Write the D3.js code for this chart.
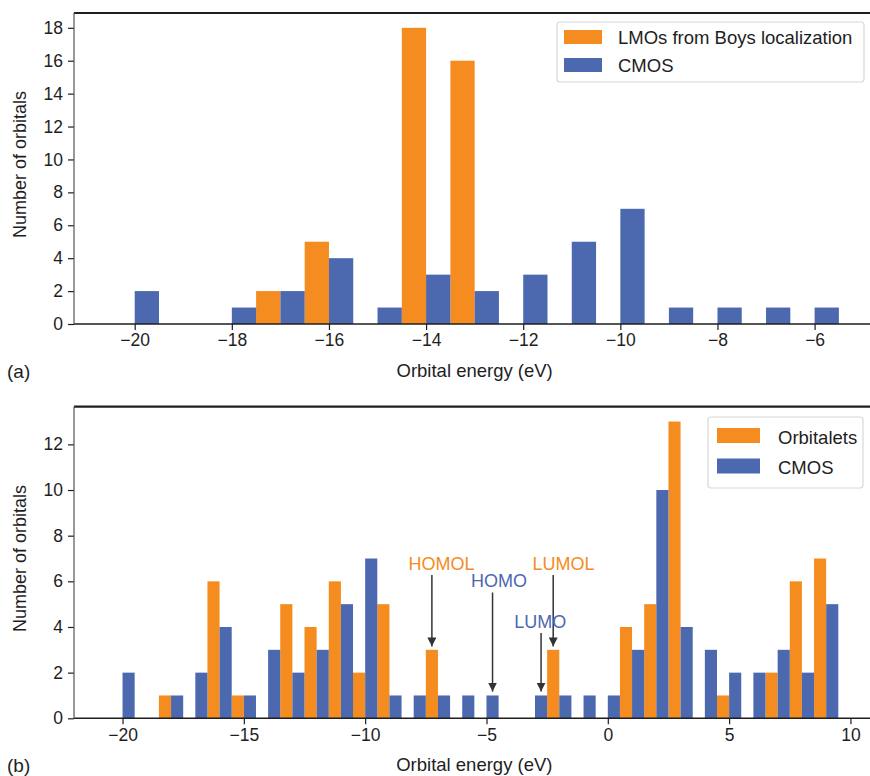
<!DOCTYPE html>
<html>
<head>
<meta charset="utf-8">
<script src="https://cdn.jsdelivr.net/npm/d3@7"></script>
<style>
  html, body { margin: 0; padding: 0; background: #fff; }
  svg { display: block; font-family: "Liberation Sans", Arial, Helvetica, sans-serif; }
</style>
</head>
<body>
<svg id="chart" width="870" height="776"></svg>
<script>
// ---------- DATA ----------
// Panel (a)
const binsA = [-20, -19, -18, -17, -16, -15, -14, -13, -12, -11, -10, -9, -8, -7, -6];
const lmoCounts = [0, 0, 0, 2, 5, 0, 18, 16, 0, 0, 0, 0, 0, 0, 0];
const cmosCountsA = [2, 0, 1, 2, 4, 1, 3, 2, 3, 5, 7, 1, 1, 1, 1];
const xTicksA = [-20, -18, -16, -14, -12, -10, -8, -6];
const yTicksA = [0, 2, 4, 6, 8, 10, 12, 14, 16, 18];

// Panel (b)
const binsB = [-20, -19, -18, -17, -16, -15, -14, -13, -12, -11, -10, -9, -8, -7, -6, -5, -4, -3, -2, -1, 0, 1, 2, 3, 4, 5, 6, 7, 8, 9];
const orbitaletCounts = [0, 0, 1, 0, 6, 1, 0, 5, 4, 6, 2, 5, 0, 3, 0, 0, 0, 0, 3, 0, 0, 4, 5, 13, 0, 1, 0, 2, 6, 7];
const cmosCountsB = [2, 0, 1, 2, 4, 1, 3, 2, 3, 5, 7, 1, 1, 1, 1, 1, 0, 1, 1, 1, 1, 3, 10, 4, 3, 2, 2, 3, 2, 5];
const xTicksB = [-20, -15, -10, -5, 0, 5, 10];
const yTicksB = [0, 2, 4, 6, 8, 10, 12];

// Annotations in panel (b) (data coordinates)
const annLabels = ["HOMOL", "HOMO", "LUMOL", "LUMO"];
const annSeries = ["orb", "cmos", "orb", "cmos"];
const annTargetX = [-7.25, -4.75, -2.25, -2.75];
const annTargetY = [3.15, 1.17, 3.15, 1.17];
const annTextX = [-6.85, -4.48, -1.83, -2.78];
const annTextY = [6.5, 5.73, 6.5, 3.96];

// Legends
const legendA = ["LMOs from Boys localization", "CMOS"];
const legendB = ["Orbitalets", "CMOS"];

// ---------- STYLE ----------
const ORANGE = "#F58C20";
const BLUE = "#4C69B0";
const INK = "#1e1e1e";

const svg = d3.select("#chart");

function panel(cfg) {
  const g = svg.append("g");
  const x = d3.scaleLinear().domain(cfg.xDomain).range([cfg.left, cfg.right]);
  const y = d3.scaleLinear().domain(cfg.yDomain).range([cfg.bottom, cfg.top]);

  // bars: orange on left half of bin, blue on right half
  g.append("g").selectAll("rect").data(cfg.bins.map((b, i) => ({b, v: cfg.s0[i]})).filter(d => d.v > 0))
    .join("rect")
    .attr("x", d => x(d.b - 0.5)).attr("width", d => x(d.b) - x(d.b - 0.5))
    .attr("y", d => y(d.v)).attr("height", d => y(0) - y(d.v))
    .attr("fill", ORANGE);
  g.append("g").selectAll("rect").data(cfg.bins.map((b, i) => ({b, v: cfg.s1[i]})).filter(d => d.v > 0))
    .join("rect")
    .attr("x", d => x(d.b)).attr("width", d => x(d.b + 0.5) - x(d.b))
    .attr("y", d => y(d.v)).attr("height", d => y(0) - y(d.v))
    .attr("fill", BLUE);

  // axes
  const xAxis = d3.axisBottom(x).tickValues(cfg.xTicks).tickSize(6).tickPadding(4).tickFormat(d3.format("d"));
  const yAxis = d3.axisLeft(y).tickValues(cfg.yTicks).tickSize(6).tickPadding(5).tickFormat(d3.format("d"));
  const gx = g.append("g").attr("transform", `translate(0,${cfg.bottom})`).call(xAxis);
  const gy = g.append("g").attr("transform", `translate(${cfg.left},0)`).call(yAxis);
  [gx, gy].forEach(a => {
    a.select(".domain").remove();
    a.selectAll(".tick line").attr("stroke", INK).attr("stroke-width", 1.2);
    a.selectAll(".tick text").attr("fill", INK).style("font-size", "17.5px").style("font-family", '"Liberation Sans", Arial, sans-serif');
  });

  // spines
  g.append("line").attr("x1", cfg.left).attr("x2", cfg.right).attr("y1", cfg.top).attr("y2", cfg.top)
    .attr("stroke", INK).attr("stroke-width", 2.2);
  g.append("line").attr("x1", cfg.left).attr("x2", cfg.right).attr("y1", cfg.bottom).attr("y2", cfg.bottom)
    .attr("stroke", INK).attr("stroke-width", 1.5);
  g.append("line").attr("x1", cfg.left).attr("x2", cfg.left).attr("y1", cfg.top).attr("y2", cfg.bottom)
    .attr("stroke", "#555").attr("stroke-width", 1.2);

  // labels
  g.append("text").attr("x", (cfg.left + cfg.right) / 2).attr("y", cfg.bottom + 53)
    .attr("text-anchor", "middle").attr("fill", INK).style("font-size", "18.5px").text("Orbital energy (eV)");
  g.append("text").attr("transform", `translate(26,${(cfg.top + cfg.bottom) / 2 - 4}) rotate(-90)`)
    .attr("text-anchor", "middle").attr("fill", INK).style("font-size", "18px").text("Number of orbitals");
  g.append("text").attr("x", 7).attr("y", cfg.bottom + 54)
    .attr("fill", INK).style("font-size", "19px").text(cfg.tag);

  // legend
  const L = cfg.legend;
  g.append("rect").attr("x", L.x).attr("y", L.y).attr("width", L.w).attr("height", L.h)
    .attr("rx", 3).attr("fill", "#fff").attr("stroke", "#d8d8d8").attr("stroke-width", 1.2);
  cfg.legendLabels.forEach((lab, i) => {
    g.append("rect").attr("x", L.x + L.sx).attr("y", L.y + L.sy + i * L.dy)
      .attr("width", L.sw).attr("height", L.sh).attr("fill", i === 0 ? ORANGE : BLUE);
    g.append("text").attr("x", L.x + L.tx).attr("y", L.y + L.ty + i * L.dy)
      .attr("fill", INK).style("font-size", "18.5px").text(lab);
  });
  return {g, x, y};
}

panel({
  left: 74, right: 875.3, top: 13, bottom: 324,
  xDomain: [-21.25, -4.75], yDomain: [0, 18.9],
  bins: binsA, s0: lmoCounts, s1: cmosCountsA,
  xTicks: xTicksA, yTicks: yTicksA, tag: "(a)",
  legendLabels: legendA,
  legend: {x: 557, y: 22, w: 307, h: 60, sx: 7, sy: 8, sw: 38, sh: 14, tx: 61, ty: 21.5, dy: 28}
});

const pb = panel({
  left: 74, right: 874.7, top: 406.7, bottom: 718.3,
  xDomain: [-22, 11], yDomain: [0, 13.65],
  bins: binsB, s0: orbitaletCounts, s1: cmosCountsB,
  xTicks: xTicksB, yTicks: yTicksB, tag: "(b)",
  legendLabels: legendB,
  legend: {x: 708, y: 417, w: 155, h: 71, sx: 9, sy: 11, sw: 43, sh: 15, tx: 70, ty: 26.5, dy: 30.5}
});

// annotations
const defs = svg.append("defs");
defs.append("marker").attr("id", "ah").attr("viewBox", "0 0 10 10").attr("refX", 10).attr("refY", 5)
  .attr("markerWidth", 9).attr("markerHeight", 9).attr("markerUnits", "userSpaceOnUse").attr("orient", "auto")
  .append("path").attr("d", "M0,0 L10,5 L0,10 Z").attr("fill", "#333");

annLabels.forEach((lab, i) => {
  const tx = pb.x(annTextX[i]), ty = pb.y(annTextY[i]);
  const ax = pb.x(annTargetX[i]), ay = pb.y(annTargetY[i]);
  pb.g.append("line").attr("x1", ax).attr("x2", ax).attr("y1", ty + 5).attr("y2", ay)
    .attr("stroke", "#333").attr("stroke-width", 1.5).attr("marker-end", "url(#ah)");
  pb.g.append("text").attr("x", tx).attr("y", ty).attr("text-anchor", "middle")
    .attr("fill", annSeries[i] === "orb" ? ORANGE : BLUE).style("font-size", "18px").text(lab);
});
</script>
</body>
</html>
